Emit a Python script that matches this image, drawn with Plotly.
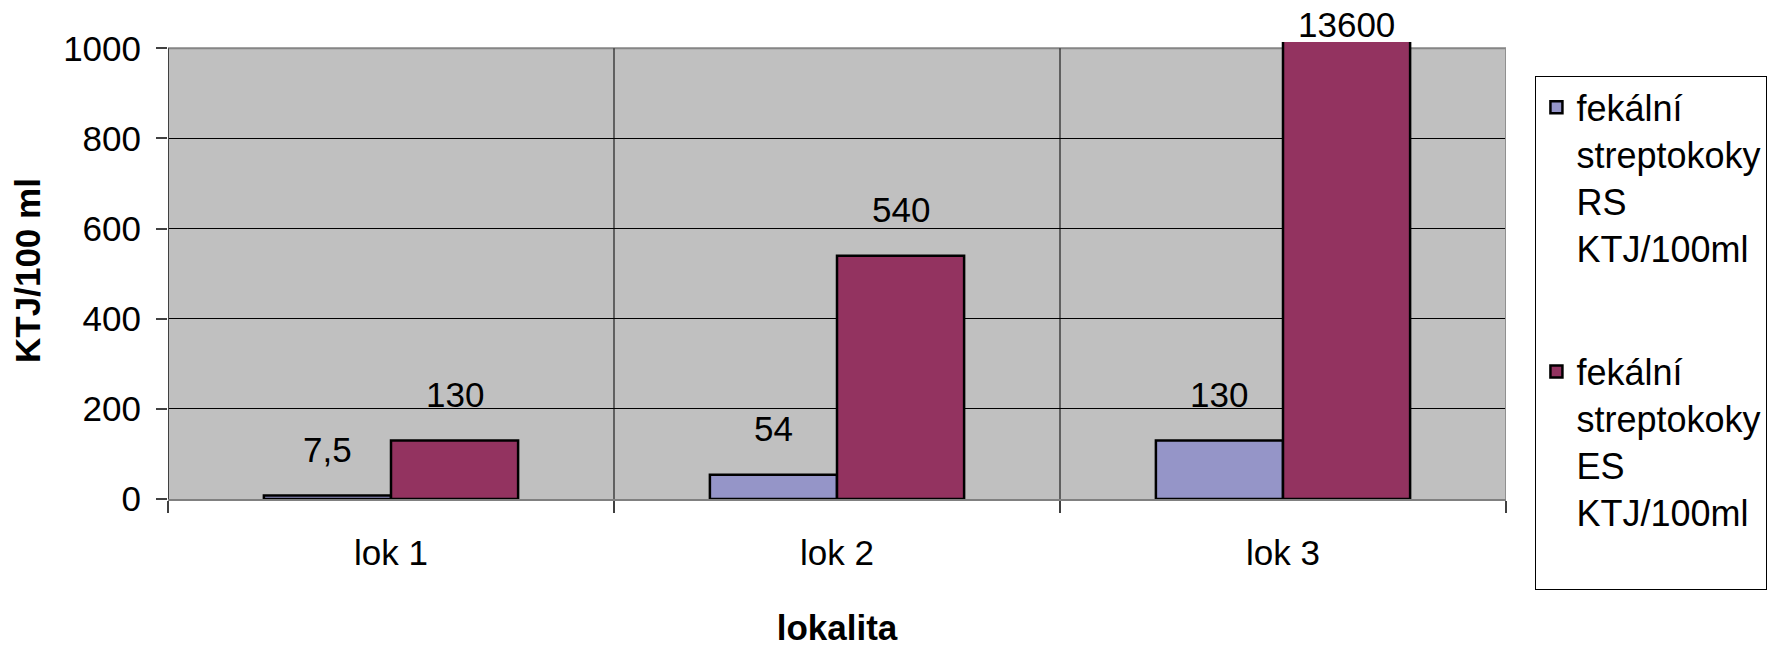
import plotly.graph_objects as go

# Data
categories = ["lok 1", "lok 2", "lok 3"]
rs_values = [7.5, 54, 130]
es_values = [130, 540, 13600]
series_names = [
    "fekální<br>streptokoky<br>RS<br>KTJ/100ml",
    "fekální<br>streptokoky<br>ES<br>KTJ/100ml<br> ",
]
series_colors = ["#9595C8", "#933360"]
y_ticks = [0, 200, 400, 600, 800, 1000]

FONT = "Liberation Sans, Arial, sans-serif"
FS = 35
Y_AXIS_MAX = 1000      # top of the shaded plot frame
Y_RANGE_TOP = 1014     # a bar over the frame pokes slightly above it
BARGAP = 0.43


def fmt(v):
    # decimal comma, as in the Czech original
    return f"{v:g}".replace(".", ",")


fig = go.Figure()
for name, vals, color, grp in zip(series_names, [rs_values, es_values], series_colors, ["rs", "es"]):
    fig.add_trace(go.Bar(
        x=categories, y=vals, name=name, legendgroup=grp,
        marker=dict(color=color, line=dict(color="black", width=2.5)),
    ))

# value labels above each bar
bar_w = (1 - BARGAP) / 2
annotations = []
for s, vals in enumerate([rs_values, es_values]):
    for i, v in enumerate(vals):
        clipped = v > Y_RANGE_TOP
        annotations.append(dict(
            x=i + (s - 0.5) * bar_w, y=min(v, Y_RANGE_TOP), xref="x", yref="y",
            text=fmt(v), showarrow=False, yanchor="middle",
            yshift=18 if clipped else 46,
            font=dict(family=FONT, size=FS, color="black"),
        ))

shapes = [
    # grey plot frame
    dict(type="rect", xref="x", yref="y", x0=-0.5, x1=2.5, y0=0, y1=Y_AXIS_MAX,
         fillcolor="#C0C0C0", line=dict(width=0), layer="below"),
    # top and right border
    dict(type="line", xref="x", yref="y", x0=-0.5, x1=2.5, y0=Y_AXIS_MAX, y1=Y_AXIS_MAX,
         line=dict(color="#858585", width=2), layer="between"),
    dict(type="line", xref="x", yref="y", x0=2.5, x1=2.5, y0=0, y1=Y_AXIS_MAX,
         line=dict(color="#909090", width=2), layer="between"),
    # left axis line
    dict(type="line", xref="x", yref="y", x0=-0.5, x1=-0.5, y0=0, y1=Y_AXIS_MAX,
         line=dict(color="#404040", width=2), layer="between"),
]
# category dividers
for b in [0.5, 1.5]:
    shapes.append(dict(type="line", xref="x", yref="y", x0=b, x1=b, y0=0, y1=Y_AXIS_MAX,
                       line=dict(color="black", width=1), layer="between"))

fig.update_layout(
    width=1778, height=648,
    margin=dict(l=168, r=272, t=42, b=149, pad=0, autoexpand=False),
    paper_bgcolor="white", plot_bgcolor="white",
    barmode="group", bargap=BARGAP, bargroupgap=0,
    font=dict(family=FONT, size=FS, color="black"),
    shapes=shapes, annotations=annotations,
    legend=dict(
        x=1.022, xanchor="left", y=0.925, yanchor="top",
        bordercolor="black", borderwidth=1, bgcolor="white",
        font=dict(family=FONT, size=36, color="black"),
        valign="top", traceorder="grouped", tracegroupgap=74,
        maxheight=640,
    ),
    showlegend=True,
)

fig.update_xaxes(
    type="category", tickson="boundaries", ticks="outside", ticklen=12,
    tickcolor="#404040", tickwidth=1.5,
    showline=True, linecolor="#808080", linewidth=1.5,
    showgrid=False, zeroline=False,
    tickfont=dict(family=FONT, size=FS), ticklabelstandoff=22,
    title=dict(text="<b>lokalita</b>", font=dict(family=FONT, size=FS), standoff=45),
    range=[-0.5, 2.5],
)
fig.update_yaxes(
    range=[0, Y_RANGE_TOP], tickvals=y_ticks, ticktext=[str(t) for t in y_ticks],
    ticks="outside", ticklen=11, tickcolor="#404040", tickwidth=1.5,
    showline=False, showgrid=True, gridcolor="black", gridwidth=1, zeroline=False,
    tickfont=dict(family=FONT, size=FS), ticklabelstandoff=8,
    title=dict(text="<b>KTJ/100 ml</b>", font=dict(family=FONT, size=FS), standoff=11),
)

fig.write_html("out.html")
